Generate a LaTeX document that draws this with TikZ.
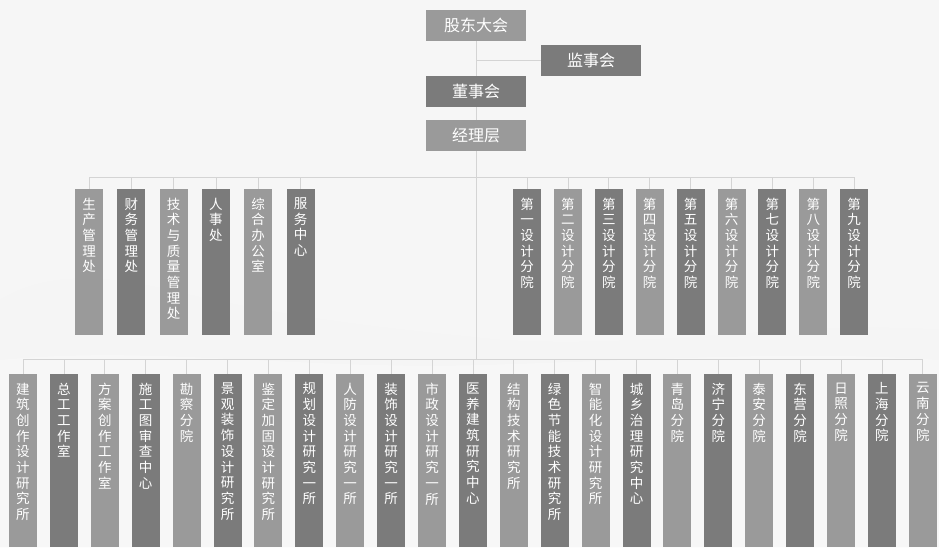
\documentclass[tikz,border=0pt]{standalone}
\usepackage{fontspec}
\newfontfamily\cjk{Noto Sans CJK SC}
\usepackage{tikz}
\definecolor{boxlight}{HTML}{9A9A9A}
\definecolor{boxdark}{HTML}{7B7B7B}
\definecolor{linecol}{HTML}{D4D4D4}
\definecolor{paper}{HTML}{F6F6F6}
\newcommand{\lcol}{boxlight}
\newcommand{\dcol}{boxdark}
\pgfdeclarelayer{bg}
\pgfsetlayers{bg,main}

% one character per line
\def\vcharsA#1#2\relax{#1\ifx\relax#2\relax\else\\\vcharsA#2\relax\fi}
\newcommand{\vchars}[1]{\vcharsA#1\relax}
\newcommand{\colt}[2]{\parbox[t][#1][t]{28pt}{\centering\cjk\fontsize{13.5pt}{15.7pt}\selectfont\vspace*{8.5pt}\vchars{#2}}}

\tikzset{
  topbox/.style={minimum width=100pt, minimum height=31pt, inner sep=0pt, text=white,
    font=\cjk\fontsize{16pt}{18pt}\selectfont},
  colbox/.style={anchor=north, inner sep=0pt, minimum width=28pt, text=white, font=\cjk},
  link/.style={draw=linecol, line width=0.8pt}
}

\begin{document}
\begin{tikzpicture}[x=1pt, y=-1pt]

    \useasboundingbox (0,0) rectangle (939,547);

    \node[topbox, fill=\lcol] (gd) at (476,25.5) {股东大会};
    \node[topbox, fill=\dcol] (js) at (591,60) {监事会};
    \node[topbox, fill=\dcol] (ds) at (476,91.5) {董事会};
    \node[topbox, fill=\lcol] (jl) at (476,135) {经理层};

    % rangee du milieu
    \node[colbox, fill=\lcol] (m1) at (89,189) {\colt{146pt}{生产管理处}};
    \node[colbox, fill=\dcol] (m2) at (131.3,189) {\colt{146pt}{财务管理处}};
    \node[colbox, fill=\lcol] (m3) at (173.6,189) {\colt{146pt}{技术与质量管理处}};
    \node[colbox, fill=\dcol] (m4) at (215.9,189) {\colt{146pt}{人事处}};
    \node[colbox, fill=\lcol] (m5) at (258.2,189) {\colt{146pt}{综合办公室}};
    \node[colbox, fill=\dcol] (m6) at (300.5,189) {\colt{146pt}{服务中心}};

    \node[colbox, fill=\dcol] (r1) at (527,189) {\colt{146pt}{第一设计分院}};
    \node[colbox, fill=\lcol] (r2) at (567.9,189) {\colt{146pt}{第二设计分院}};
    \node[colbox, fill=\dcol] (r3) at (608.8,189) {\colt{146pt}{第三设计分院}};
    \node[colbox, fill=\lcol] (r4) at (649.7,189) {\colt{146pt}{第四设计分院}};
    \node[colbox, fill=\dcol] (r5) at (690.6,189) {\colt{146pt}{第五设计分院}};
    \node[colbox, fill=\lcol] (r6) at (731.5,189) {\colt{146pt}{第六设计分院}};
    \node[colbox, fill=\dcol] (r7) at (772.4,189) {\colt{146pt}{第七设计分院}};
    \node[colbox, fill=\lcol] (r8) at (813.3,189) {\colt{146pt}{第八设计分院}};
    \node[colbox, fill=\dcol] (r9) at (854.2,189) {\colt{146pt}{第九设计分院}};

    % rangee du bas
    \node[colbox, fill=\lcol] (b1) at (23,374) {\colt{173pt}{建筑创作设计研究所}};
    \node[colbox, fill=\dcol] (b2) at (63.9,374) {\colt{173pt}{总工工作室}};
    \node[colbox, fill=\lcol] (b3) at (104.8,374) {\colt{173pt}{方案创作工作室}};
    \node[colbox, fill=\dcol] (b4) at (145.7,374) {\colt{173pt}{施工图审查中心}};
    \node[colbox, fill=\lcol] (b5) at (186.6,374) {\colt{173pt}{勘察分院}};
    \node[colbox, fill=\dcol] (b6) at (227.5,374) {\colt{173pt}{景观装饰设计研究所}};
    \node[colbox, fill=\lcol] (b7) at (268.4,374) {\colt{173pt}{鉴定加固设计研究所}};
    \node[colbox, fill=\dcol] (b8) at (309.3,374) {\colt{173pt}{规划设计研究一所}};
    \node[colbox, fill=\lcol] (b9) at (350.2,374) {\colt{173pt}{人防设计研究一所}};
    \node[colbox, fill=\dcol] (b10) at (391.1,374) {\colt{173pt}{装饰设计研究一所}};
    \node[colbox, fill=\lcol] (b11) at (432,374) {\colt{173pt}{市政设计研究一所}};
    \node[colbox, fill=\dcol] (b12) at (472.9,374) {\colt{173pt}{医养建筑研究中心}};
    \node[colbox, fill=\lcol] (b13) at (513.8,374) {\colt{173pt}{结构技术研究所}};
    \node[colbox, fill=\dcol] (b14) at (554.7,374) {\colt{173pt}{绿色节能技术研究所}};
    \node[colbox, fill=\lcol] (b15) at (595.6,374) {\colt{173pt}{智能化设计研究所}};
    \node[colbox, fill=\dcol] (b16) at (636.5,374) {\colt{173pt}{城乡治理研究中心}};
    \node[colbox, fill=\lcol] (b17) at (677.4,374) {\colt{173pt}{青岛分院}};
    \node[colbox, fill=\dcol] (b18) at (718.3,374) {\colt{173pt}{济宁分院}};
    \node[colbox, fill=\lcol] (b19) at (759.2,374) {\colt{173pt}{泰安分院}};
    \node[colbox, fill=\dcol] (b20) at (800.1,374) {\colt{173pt}{东营分院}};
    \node[colbox, fill=\lcol] (b21) at (841,374) {\colt{173pt}{日照分院}};
    \node[colbox, fill=\dcol] (b22) at (881.9,374) {\colt{173pt}{上海分院}};
    \node[colbox, fill=\lcol] (b23) at (922.8,374) {\colt{173pt}{云南分院}};

    \coordinate (mbus) at (476,177);
    \coordinate (bbus) at (476,359);

    \begin{pgfonlayer}{bg}
    \fill[paper] (0,0) rectangle (939,547);
    % collines
    \fill[black!4] (0,300) .. controls (50,270) and (110,275) .. (190,295)
        .. controls (300,320) and (400,330) .. (500,340)
        .. controls (650,350) and (800,320) .. (939,330) -- (939,547) -- (0,547) -- cycle;
    \fill[black!3] (0,360) .. controls (150,345) and (300,370) .. (480,365)
        .. controls (650,360) and (800,350) .. (939,360) -- (939,547) -- (0,547) -- cycle;

    \draw[link] (gd.south) -- (bbus);
    \draw[link] (gd.south |- js.west) -- (js.west);
    \draw[link] (m1.north |- mbus) -- (r9.north |- mbus);
    \draw[link] (b1.north |- bbus) -- (b23.north |- bbus);

    \draw[link] (m1.north) -- (m1.north |- mbus) (m2.north) -- (m2.north |- mbus)
        (m3.north) -- (m3.north |- mbus) (m4.north) -- (m4.north |- mbus)
        (m5.north) -- (m5.north |- mbus) (m6.north) -- (m6.north |- mbus);
    \draw[link] (r1.north) -- (r1.north |- mbus) (r2.north) -- (r2.north |- mbus)
        (r3.north) -- (r3.north |- mbus) (r4.north) -- (r4.north |- mbus)
        (r5.north) -- (r5.north |- mbus) (r6.north) -- (r6.north |- mbus)
        (r7.north) -- (r7.north |- mbus) (r8.north) -- (r8.north |- mbus)
        (r9.north) -- (r9.north |- mbus);
    \draw[link] (b1.north) -- (b1.north |- bbus) (b2.north) -- (b2.north |- bbus)
        (b3.north) -- (b3.north |- bbus) (b4.north) -- (b4.north |- bbus)
        (b5.north) -- (b5.north |- bbus) (b6.north) -- (b6.north |- bbus)
        (b7.north) -- (b7.north |- bbus) (b8.north) -- (b8.north |- bbus)
        (b9.north) -- (b9.north |- bbus) (b10.north) -- (b10.north |- bbus)
        (b11.north) -- (b11.north |- bbus) (b12.north) -- (b12.north |- bbus)
        (b13.north) -- (b13.north |- bbus) (b14.north) -- (b14.north |- bbus)
        (b15.north) -- (b15.north |- bbus) (b16.north) -- (b16.north |- bbus)
        (b17.north) -- (b17.north |- bbus) (b18.north) -- (b18.north |- bbus)
        (b19.north) -- (b19.north |- bbus) (b20.north) -- (b20.north |- bbus)
        (b21.north) -- (b21.north |- bbus) (b22.north) -- (b22.north |- bbus)
        (b23.north) -- (b23.north |- bbus);
    \end{pgfonlayer}

  \end{tikzpicture}
\end{document}
